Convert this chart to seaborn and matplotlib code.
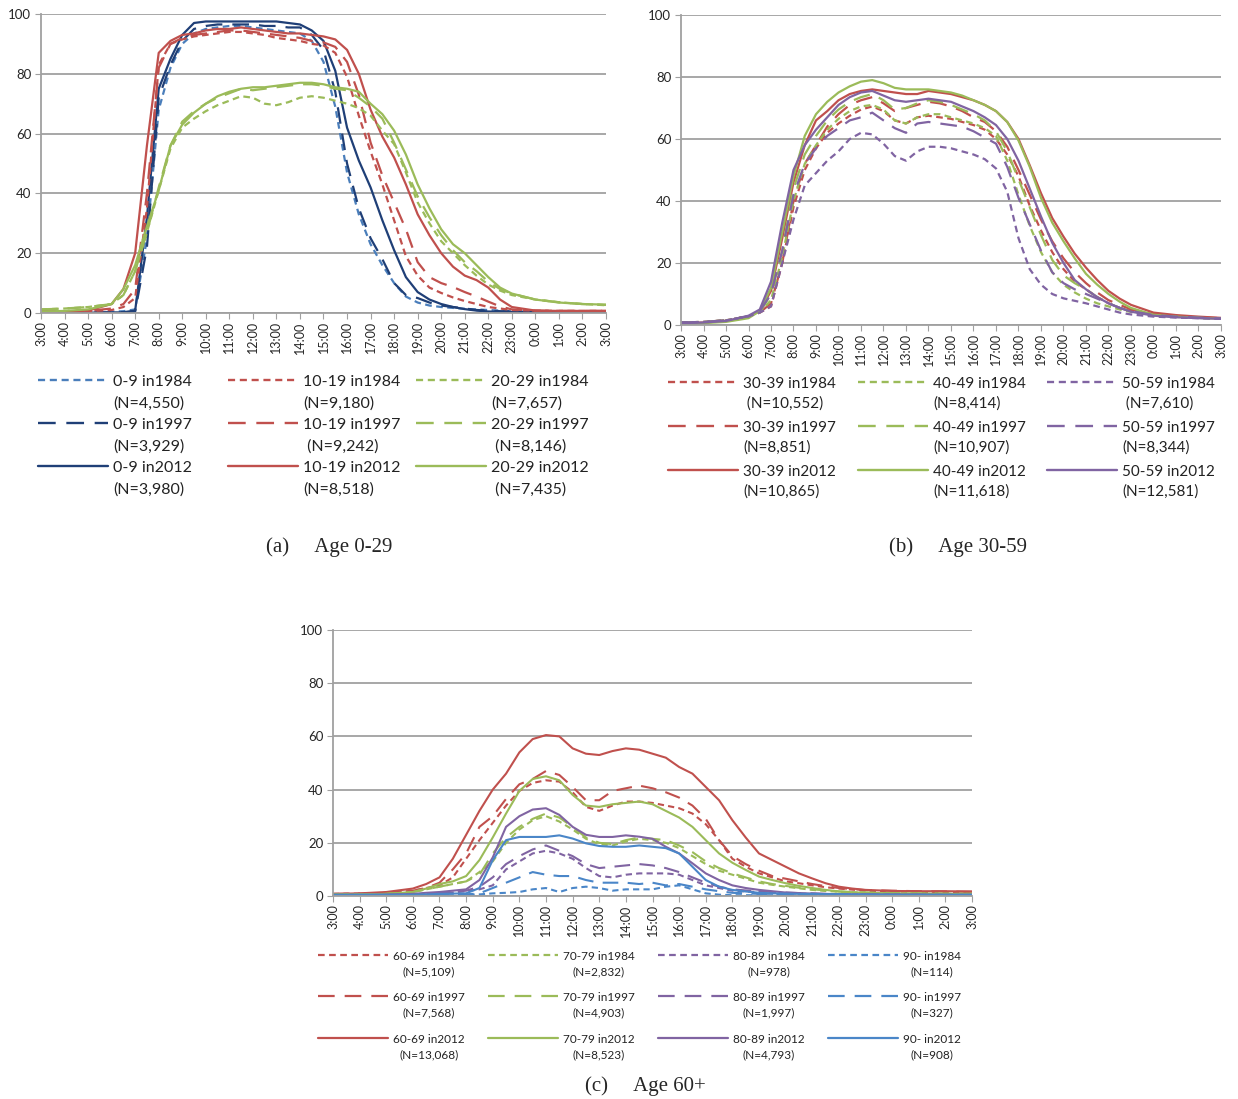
import numpy as np
import pandas as pd
import matplotlib
matplotlib.use("Agg")
import matplotlib.pyplot as plt
from matplotlib.lines import Line2D
import seaborn as sns

# time of day (hours after midnight, 27 = 3:00 next day)
hours = [3, 4, 5, 6, 6.5, 7, 7.5, 8, 8.5, 9, 9.5, 10, 10.5, 11, 11.5, 12, 12.5, 13, 13.5, 14,
         14.5, 15, 15.5, 16, 16.5, 17, 17.5, 18, 18.5, 19, 19.5, 20, 20.5, 21, 21.5, 22, 22.5, 23,
         24, 25, 26, 27]
hour_ticks = list(range(3, 28))
hour_labels = [f"{h % 24}:00" for h in hour_ticks]
years = ["1984", "1997", "2012"]

# ---------------- (a) Age 0-29
ages_a = ["0-9", "10-19", "20-29"]
n_a = [["4,550", "3,929", "3,980"], ["9,180", "9,242", "8,518"], ["7,657", "8,146", "7,435"]]
a_0_9_1984 = [0.3, 0.3, 0.3, 0.4, 0.6, 1.2, 25, 68, 82, 90, 93.5, 95, 95.5, 96, 96, 95.5, 95, 94.5, 94, 93.5,
              91, 84, 69, 47, 33, 23, 16, 10, 5.5, 3.5, 2.5, 2, 1.7, 1.4, 1.2, 1, 0.8, 0.6, 0.5, 0.4, 0.3, 0.3]
a_0_9_1997 = [0.2, 0.2, 0.2, 0.2, 0.3, 0.5, 22, 72, 83, 91, 95, 96, 96.5, 96.5, 96.5, 96.5, 96, 96, 95.5, 95.5,
              93, 88, 74, 50, 35, 25, 18, 10, 6, 5, 3.5, 2.5, 2, 1.5, 1, 0.8, 0.6, 0.5, 0.4, 0.3, 0.3, 0.3]
a_0_9_2012 = [0.1, 0.1, 0.1, 0.2, 0.2, 0.8, 32, 75, 85, 93, 97, 97.5, 97.5, 97.5, 97.5, 97.5, 97.5, 97.5, 97, 96.5,
              94.5, 91, 81, 62, 51, 42, 31, 21, 12, 7, 4.5, 3, 2, 1.3, 0.8, 0.5, 0.4, 0.3, 0.3, 0.3, 0.3, 0.3]
a_10_19_1984 = [0.5, 0.5, 0.6, 1, 2, 5, 35, 83, 90, 91.5, 92.5, 93, 93.5, 94, 94, 93.5, 93, 92, 91.5, 91,
                90, 89.5, 87, 79, 66, 54, 43, 31, 19, 12.5, 8.5, 6.7, 5.2, 4, 3, 2, 1.5, 1, 0.8, 0.7, 0.7, 0.7]
a_10_19_1997 = [0.5, 0.5, 0.7, 1.5, 3, 8, 40, 82, 90, 92, 93, 93.5, 94, 94.5, 94.5, 94, 93.5, 93, 92.5, 92,
                91, 90.5, 89, 84, 73, 57, 46, 37, 28, 17, 12, 10, 8.7, 7, 5.5, 3.8, 2.2, 1.2, 0.8, 0.7, 0.7, 0.7]
a_10_19_2012 = [0.5, 0.5, 0.8, 3, 8, 20, 56, 87, 91, 93, 93.5, 94.5, 95, 95, 95.5, 95, 94.5, 94, 93.5, 93.5,
                93, 92.5, 91.5, 88, 80, 68, 59, 52, 43, 33, 26, 20, 15.5, 12.5, 11, 8.5, 4.5, 2, 0.8, 0.7, 0.7, 0.7]
a_20_29_1984 = [1.2, 1.5, 2, 3, 6, 14, 27, 41, 55, 62, 65, 67.5, 69.5, 71, 72.5, 72, 70, 69.5, 70.5, 72,
                72.5, 72, 71, 70, 68.5, 66, 61, 56.5, 47, 37, 30, 24, 20, 16, 12.5, 9.5, 7.5, 6, 4.5, 3.6, 3, 2.6]
a_20_29_1997 = [1.2, 1.5, 2, 3, 6, 14, 27, 42, 56, 64, 67.5, 70, 72, 73.5, 75, 74.5, 75, 75.5, 76, 76.5,
                76.5, 76, 75, 74.5, 72, 69, 65, 57, 48, 39, 32, 26, 21, 17, 14, 10.5, 8, 6.5, 4.5, 3.6, 3, 2.7]
a_20_29_2012 = [0.5, 0.7, 1.2, 3, 8, 16, 29, 41, 56, 63, 67, 70, 72.5, 74, 75, 75.5, 75.5, 76, 76.5, 77,
                77, 76.5, 75.5, 75, 74, 70, 66.5, 61, 53, 43, 35, 28, 23, 20, 16, 12, 8.5, 6.5, 4.5, 3.5, 3, 2.8]

# ---------------- (b) Age 30-59
ages_b = ["30-39", "40-49", "50-59"]
n_b = [["10,552", "8,851", "10,865"], ["8,414", "10,907", "11,618"], ["7,610", "8,344", "12,581"]]
b_30_39_1984 = [0.8, 1, 1.5, 2.8, 4, 6, 20, 38, 50, 57, 62, 65, 67.5, 69.5, 70.5, 69, 66, 65, 67, 67.5,
                67, 66.5, 65.5, 64.5, 63, 60, 55, 48, 38.5, 30.5, 23.5, 18, 14, 11.5, 9, 7, 5.5, 4.5, 3.3, 2.8, 2.4, 2.1]
b_30_39_1997 = [0.8, 1, 1.5, 2.8, 4, 7, 20, 40, 52, 58, 64, 68, 71, 72.5, 73.5, 71.5, 69, 70, 71, 72,
                71.5, 70.5, 69, 67, 65.5, 62.5, 57.5, 50, 42, 34, 27, 21.5, 17, 13.5, 10.5, 8, 6.5, 5, 3.5, 2.9, 2.5, 2.2]
b_30_39_2012 = [0.6, 0.8, 1.3, 2.6, 4.5, 11, 28, 46, 58, 66, 69, 72.5, 74.5, 75.5, 76, 75.5, 75, 74.5, 74.5, 75.5,
                75, 74.5, 73.5, 72.5, 71, 69, 65.5, 60, 51.5, 42.5, 34.5, 28.5, 23, 18.5, 14.5, 11, 8.5, 6.5, 4, 3.2, 2.7, 2.3]
b_40_49_1984 = [0.8, 1, 1.5, 2.8, 4, 8, 22, 40, 52, 58, 63, 66.5, 69, 70.5, 71, 69.5, 66, 65, 67, 68,
                68, 67, 66, 65, 63.5, 61, 53, 42, 32, 23.5, 17, 13, 10.5, 8.5, 7, 6, 5, 4.2, 3, 2.6, 2.3, 2]
b_40_49_1997 = [0.8, 1, 1.5, 2.8, 4, 10, 24, 44, 55, 61, 66, 69.5, 72, 73.5, 74.5, 72.5, 69.5, 70, 71.5, 72.5,
                72, 71, 69.5, 68, 66, 62.5, 56, 47, 38, 29, 21, 16, 13.5, 11.5, 9, 7, 5.5, 4.5, 3.2, 2.6, 2.3, 2]
b_40_49_2012 = [0.4, 0.6, 1, 2.2, 4.5, 12, 30, 48, 61, 68, 72, 75, 77, 78.5, 79, 78, 76.5, 76, 76, 76,
                75.5, 75, 74, 72.5, 71, 69, 65.5, 59.5, 51, 41, 33, 27, 21.5, 16.5, 13, 10, 7.5, 5.5, 3.3, 2.7, 2.3, 2]
b_50_59_1984 = [0.8, 1, 1.5, 2.8, 4, 6, 20, 34, 45, 49, 53, 56, 60, 62, 61.5, 58.5, 54.5, 53, 56, 57.5,
                57.5, 57, 56, 55, 53.5, 50.5, 43, 28, 18, 13, 10, 8.6, 7.8, 7, 6, 5, 4, 3.4, 2.7, 2.4, 2.2, 2]
b_50_59_1997 = [0.8, 1, 1.5, 2.8, 4.5, 10, 24, 42, 52, 57, 61, 63.5, 66, 67, 68.5, 66, 63.5, 62, 65, 65.5,
                65, 64.5, 64, 62.5, 60.5, 58.5, 51, 41, 32.5, 24, 17, 13.5, 11.5, 10, 8.5, 7, 5.5, 4.5, 3.2, 2.7, 2.4, 2.1]
b_50_59_2012 = [0.6, 0.8, 1.3, 3, 5, 14, 33, 50, 58, 63, 67, 71, 73.5, 75, 75.5, 74, 72.5, 72, 72.5, 73,
                72.5, 72, 70.5, 69, 67, 64.5, 60, 53, 44, 35, 26.5, 20, 14.5, 11.5, 9, 7, 5.5, 4.3, 3, 2.5, 2.2, 2]

# ---------------- (c) Age 60+
ages_c = ["60-69", "70-79", "80-89", "90-"]
n_c = [["5,109", "7,568", "13,068"], ["2,832", "4,903", "8,523"], ["978", "1,997", "4,793"], ["114", "327", "908"]]
c_60_69_1984 = [0.8, 0.9, 1.2, 2, 3, 4, 7, 14, 21, 27.5, 34, 39.5, 42.5, 43.5, 43, 39, 33.5, 32, 34, 35.5,
                35.5, 35, 34, 33, 31, 27, 21, 14, 11, 8.5, 7, 5.5, 4.8, 4, 3.3, 2.8, 2.4, 2, 1.7, 1.5, 1.4, 1.3]
c_60_69_1997 = [0.8, 0.9, 1.2, 2, 3, 5, 10, 16, 26, 30, 36.5, 42, 44, 47, 45.5, 41, 36, 36, 39.5, 40.5,
                41.5, 40.5, 39, 37, 34, 29, 21, 15, 12, 9.5, 7.5, 6.5, 5.5, 4.5, 3.7, 3, 2.6, 2.2, 2, 1.8, 1.7, 1.6]
c_60_69_2012 = [0.8, 1, 1.5, 2.8, 4.5, 7, 14, 23, 32, 40, 46, 54, 59, 60.5, 60, 55.5, 53.5, 53, 54.5, 55.5,
                55, 53.5, 52, 48.5, 46, 41, 36, 28.5, 22, 16, 13.5, 11, 8.5, 6.6, 4.8, 3.5, 2.8, 2.3, 1.9, 1.8, 1.8, 1.7]
c_70_79_1984 = [0.5, 0.6, 0.8, 1.5, 2.5, 3.5, 4.5, 5.5, 9, 13, 20, 25, 28.5, 30, 28, 25, 21.5, 19.5, 19, 20.5,
                21.5, 21, 20, 18, 15, 12, 9.5, 8, 6.5, 5, 4.2, 3.5, 2.9, 2.3, 1.9, 1.6, 1.4, 1.2, 1, 0.9, 0.8, 0.8]
c_70_79_1997 = [0.5, 0.6, 0.8, 1.5, 2.5, 3.5, 4.5, 5.5, 8, 16, 22, 26, 29, 31, 29.5, 26, 22, 20, 19.5, 21,
                22, 21.5, 21, 19, 16.5, 13, 10.5, 8.5, 7, 5.5, 4.5, 3.8, 3.1, 2.5, 2.1, 1.7, 1.5, 1.3, 1.1, 1, 0.9, 0.8]
c_70_79_2012 = [0.5, 0.6, 0.8, 1.5, 2.8, 4.5, 5.5, 7.5, 13.5, 22, 31, 39.5, 44, 45, 43.5, 38, 34, 33.5, 34.5, 35,
                35.5, 34.5, 32, 29.5, 26, 21, 16, 12.5, 9.8, 7.3, 6, 4.8, 3.8, 3, 2.3, 1.7, 1.4, 1.2, 1, 0.9, 0.8, 0.8]
c_80_89_1984 = [0.3, 0.3, 0.4, 0.5, 0.8, 1, 1.3, 1.8, 2.5, 4, 10, 13, 16, 17, 16, 14, 10.5, 7.5, 7, 8,
                8.5, 8.5, 8.5, 8, 6, 4, 3, 2, 1.7, 1.5, 1.3, 1, 0.9, 0.8, 0.7, 0.6, 0.6, 0.5, 0.5, 0.4, 0.4, 0.4]
c_80_89_1997 = [0.3, 0.3, 0.4, 0.6, 0.8, 1, 1.5, 2, 3.5, 7, 12, 15, 17.5, 19, 17, 15, 12, 10.5, 11, 11.5,
                12, 11.5, 10.5, 9, 7, 5, 3.5, 2.5, 2.1, 1.8, 1.5, 1.3, 1.1, 1, 0.8, 0.7, 0.6, 0.6, 0.5, 0.5, 0.4, 0.4]
c_80_89_2012 = [0.3, 0.4, 0.5, 0.8, 1.2, 1.5, 2, 2.5, 6, 14.5, 26, 30, 32.5, 33, 30.5, 26, 23, 22.2, 22.2, 22.8,
                22.3, 21.5, 18.5, 16, 12.3, 8.5, 6, 4, 3, 2.3, 1.8, 1.3, 1.1, 0.9, 0.8, 0.7, 0.6, 0.6, 0.5, 0.5, 0.4, 0.4]
c_90_1984 = [0.2, 0.2, 0.2, 0.2, 0.2, 0.3, 0.3, 0.5, 0.6, 1, 1.2, 1.5, 2.5, 3, 1.5, 3, 3.5, 3, 2, 2.5,
             2.5, 2.5, 3.5, 4, 2.5, 1, 0.5, 0.3, 0.3, 0.3, 0.3, 0.3, 0.3, 0.3, 0.3, 0.3, 0.3, 0.3, 0.3, 0.3, 0.3, 0.3]
c_90_1997 = [0.2, 0.2, 0.2, 0.2, 0.3, 0.4, 0.5, 0.6, 1, 3, 5, 7, 9, 8, 7.5, 7.5, 6, 5, 5, 5,
             4.5, 5, 4, 4.5, 3.5, 2.5, 1.8, 1.2, 1, 0.8, 0.7, 0.5, 0.5, 0.4, 0.4, 0.4, 0.3, 0.3, 0.3, 0.3, 0.3, 0.3]
c_90_2012 = [0.5, 0.5, 0.5, 0.5, 0.6, 0.8, 0.9, 1, 3, 13.5, 21, 22.2, 22.2, 22.2, 22.8, 21.6, 19.8, 18.8, 18.5, 18.5,
             19, 18.5, 18, 16, 11, 6, 3.5, 2.3, 1.7, 1.2, 1, 0.9, 0.8, 0.8, 0.7, 0.7, 0.6, 0.6, 0.5, 0.5, 0.5, 0.5]

LIGHT_BLUE = "#4A7EBB"
NAVY = "#1F3F77"
RED = "#C0504D"
GREEN = "#9BBB59"
PURPLE = "#8064A2"
BLUE = "#4A86C8"
GRID = "#A0A0A0"
DASHES = {"1984": (3, 2), "1997": (7.5, 4.5), "2012": ""}

W, H = 1238, 1099

panels = [
    dict(ages=ages_a, n=n_a,
         values=[[a_0_9_1984, a_0_9_1997, a_0_9_2012],
                 [a_10_19_1984, a_10_19_1997, a_10_19_2012],
                 [a_20_29_1984, a_20_29_1997, a_20_29_2012]],
         colors=[[LIGHT_BLUE, NAVY, NAVY], [RED] * 3, [GREEN] * 3],
         rect=[41, 14, 606, 313], lw=1.6,
         leg_x=[38, 228, 416], leg_y=[380, 423, 466], leg_fs=11.5, leg_ls=1.6, leg_dy=8,
         leg_align="left",
         indent={("10-19", "1997"), ("20-29", "1997"), ("20-29", "2012")},
         caption="(a)     Age 0-29", cap_xy=(329, 547)),
    dict(ages=ages_b, n=n_b,
         values=[[b_30_39_1984, b_30_39_1997, b_30_39_2012],
                 [b_40_49_1984, b_40_49_1997, b_40_49_2012],
                 [b_50_59_1984, b_50_59_1997, b_50_59_2012]],
         colors=[[RED] * 3, [GREEN] * 3, [PURPLE] * 3],
         rect=[681, 15, 1221, 325], lw=1.6,
         leg_x=[668, 858, 1047], leg_y=[382, 426, 470], leg_fs=11, leg_ls=1.45, leg_dy=8,
         leg_align="left",
         indent={("30-39", "1984"), ("50-59", "1984")},
         caption="(b)     Age 30-59", cap_xy=(958, 547)),
    dict(ages=ages_c, n=n_c,
         values=[[c_60_69_1984, c_60_69_1997, c_60_69_2012],
                 [c_70_79_1984, c_70_79_1997, c_70_79_2012],
                 [c_80_89_1984, c_80_89_1997, c_80_89_2012],
                 [c_90_1984, c_90_1997, c_90_2012]],
         colors=[[RED] * 3, [GREEN] * 3, [PURPLE] * 3, [BLUE] * 3],
         rect=[333, 630, 972, 896], lw=1.5,
         leg_x=[318, 488, 658, 828], leg_y=[955, 996, 1038], leg_fs=8.5, leg_ls=1.5, leg_dy=6,
         leg_align="center",
         indent=set(),
         caption="(c)     Age 60+", cap_xy=(645, 1086)),
]

sns.set_style("white")
plt.rcParams["font.family"] = ["Lato", "DejaVu Sans"]

fig = plt.figure(figsize=(W / 100, H / 100), dpi=100)

for p in panels:
    x0, y0, x1, y1 = p["rect"]
    ax = fig.add_axes([x0 / W, 1 - y1 / H, (x1 - x0) / W, (y1 - y0) / H])

    rows = []
    palette = {}
    for i, age in enumerate(p["ages"]):
        for j, yr in enumerate(years):
            name = f"{age} in{yr}"
            palette[name] = p["colors"][i][j]
            for h, v in zip(hours, p["values"][i][j]):
                rows.append({"hour": h, "share": v, "series": name, "year": yr})
    df = pd.DataFrame(rows)

    sns.lineplot(data=df, x="hour", y="share", hue="series", style="year",
                 palette=palette, dashes=DASHES, linewidth=p["lw"],
                 estimator=None, legend=False, ax=ax)

    ax.set_xlim(3, 27)
    ax.set_ylim(0, 100)
    ax.set_xticks(hour_ticks)
    ax.set_xticklabels(hour_labels)
    ax.set_yticks(range(0, 101, 20))
    ax.set_xlabel("")
    ax.set_ylabel("")
    ax.grid(axis="y", color=GRID, linewidth=1.3)
    ax.grid(axis="x", visible=False)
    ax.set_axisbelow(True)
    for s in ["top", "right"]:
        ax.spines[s].set_visible(False)
    for s in ["left", "bottom"]:
        ax.spines[s].set_color(GRID)
        ax.spines[s].set_linewidth(1.3)
    ax.tick_params(axis="x", bottom=True, labelrotation=90, labelsize=9, length=4,
                   color=GRID, pad=2)
    ax.tick_params(axis="y", left=True, labelsize=9.5, length=4, color=GRID, pad=3)

    # legend drawn below the panel, rows = survey year, columns = age group
    for i, age in enumerate(p["ages"]):
        for j, yr in enumerate(years):
            lx = p["leg_x"][i]
            ly = 1 - p["leg_y"][j] / H
            ln = Line2D([lx / W, (lx + 70) / W], [ly, ly], transform=fig.transFigure,
                        color=p["colors"][i][j], linewidth=p["lw"] + 0.1)
            if DASHES[yr]:
                ln.set_dashes(DASHES[yr])
            fig.add_artist(ln)
            pad = " " if (age, yr) in p["indent"] else ""
            fig.text((lx + 75) / W, ly - p["leg_dy"] / H,
                     f"{age} in{yr}\n{pad}(N={p['n'][i][j]})",
                     fontsize=p["leg_fs"], ha="left", va="center_baseline",
                     multialignment=p["leg_align"], linespacing=p["leg_ls"], color="#222222")

    cx, cy = p["cap_xy"]
    fig.text(cx / W, 1 - cy / H, p["caption"], ha="center", va="center",
             fontsize=15, family="Liberation Serif")

fig.savefig("out.png", dpi=100)
